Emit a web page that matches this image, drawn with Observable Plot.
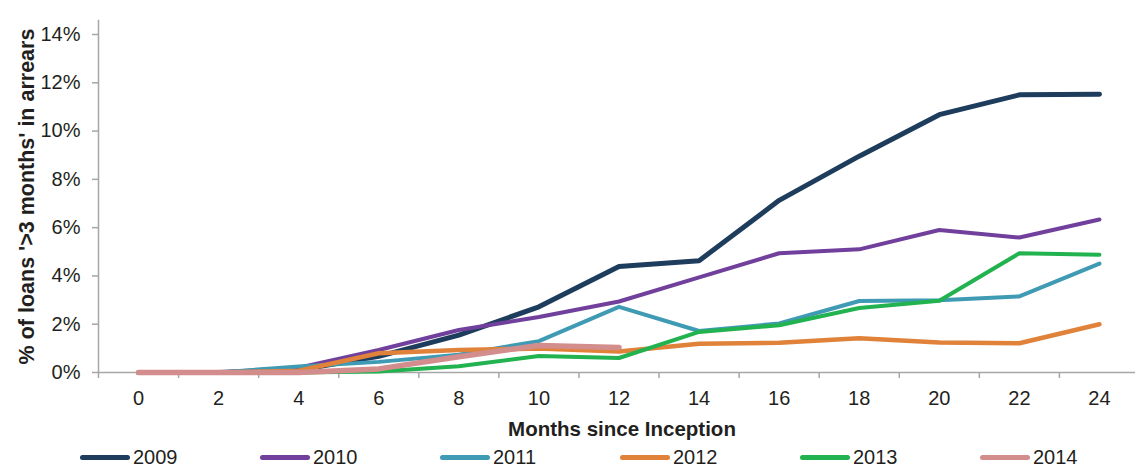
<!DOCTYPE html>
<html>
<head>
<meta charset="utf-8">
<script src="https://cdn.jsdelivr.net/npm/d3@7"></script>
<script src="https://cdn.jsdelivr.net/npm/@observablehq/plot@0.6"></script>
<style>
  html, body { margin: 0; padding: 0; background: #fff; }
  #chart { width: 1135px; height: 470px; overflow: hidden; font-family: "Liberation Sans", Arial, Helvetica, sans-serif; }
  .legend { display: flex; height: 25px; padding-left: 80px; align-items: center; }
  .legend .item { display: flex; flex: 0 0 180px; align-items: center; width: 180px; font-size: 20px; color: #231f20; }
  .legend .sw { width: 50px; height: 5px; border-radius: 3px; margin-right: 3px; }
</style>
</head>
<body>
<div id="chart"></div>
<script>
// Data
const months = [0, 2, 4, 6, 8, 10, 12, 14, 16, 18, 20, 22, 24];
const years = ["2009", "2010", "2011", "2012", "2013", "2014"];
const s2009 = [0, 0, 0.1, 0.67, 1.55, 2.72, 4.39, 4.63, 7.13, 8.96, 10.68, 11.5, 11.53];
const s2010 = [0, 0, 0.2, 0.93, 1.76, 2.3, 2.94, 3.94, 4.94, 5.1, 5.9, 5.59, 6.34];
const s2011 = [0, 0, 0.25, 0.44, 0.74, 1.3, 2.72, 1.72, 2.03, 2.96, 2.99, 3.15, 4.51];
const s2012 = [0, 0, 0.07, 0.8, 0.93, 0.99, 0.87, 1.19, 1.23, 1.42, 1.24, 1.21, 2.0];
const s2013 = [0, 0, 0, 0.04, 0.26, 0.68, 0.6, 1.68, 1.96, 2.67, 2.97, 4.94, 4.88];
const s2014 = [0, 0, 0, 0.15, 0.65, 1.12, 1.04];
const yTicks = [0, 0.02, 0.04, 0.06, 0.08, 0.10, 0.12, 0.14];
const yTitle = "% of loans '>3 months' in arrears";
const xTitle = "Months since Inception";

// Styles
const colors = ["#1e3d5c", "#70409c", "#3f9ab4", "#e0823a", "#22b24f", "#d38d8c"];
const widths = [5, 4, 4, 4.5, 4, 5.5];
const axisGray = "#a6a6a6";
const textColor = "#231f20";

const series = [s2009, s2010, s2011, s2012, s2013, s2014];
const rows = years.map((yr, i) => series[i].map((v, j) => ({year: yr, month: months[j], value: v / 100})));
const bounds = months.map(m => m - 1);

const lineMarks = rows.map((r, i) => Plot.line(r, {
  x: "month", y: "value", stroke: colors[i], strokeWidth: widths[i],
  strokeLinejoin: "round", strokeLinecap: "round"
}));

const plot = Plot.plot({
  width: 1135,
  height: 445,
  marginLeft: 98,
  marginRight: 0,
  marginTop: 20,
  marginBottom: 73,
  style: {fontFamily: "'Liberation Sans', Arial, Helvetica, sans-serif", fontSize: "20px", color: textColor, background: "white"},
  x: {type: "linear", domain: [months[0] - 1, months[months.length - 1] + 0.9]},
  y: {domain: [0, 0.1458]},
  marks: [
    Plot.axisY(yTicks, {tickSize: 6, tickPadding: 12, tickFormat: d3.format(".0%"), stroke: axisGray, strokeWidth: 1.5, fill: textColor, fontSize: 20, label: null}),
    Plot.axisX(months, {tickSize: 0, tickPadding: 18, fill: textColor, fontSize: 20, label: null}),
    Plot.axisX(bounds, {tickSize: 6, tickFormat: () => "", stroke: axisGray, strokeWidth: 1.5, label: null}),
    Plot.frame({anchor: "left", stroke: axisGray, strokeWidth: 1.5}),
    Plot.ruleY([0], {stroke: axisGray, strokeWidth: 1.5}),
    ...lineMarks,
    Plot.text([yTitle], {frameAnchor: "left", rotate: -90, dx: -65, textAnchor: "middle", lineAnchor: "bottom", fontWeight: "bold", fontSize: 21.5, fill: textColor}),
    Plot.text([xTitle], {frameAnchor: "bottom", dx: 5, dy: 63, textAnchor: "middle", lineAnchor: "bottom", fontWeight: "bold", fontSize: 20.5, fill: textColor})
  ]
});

const chart = document.getElementById("chart");
chart.appendChild(plot);

const legend = document.createElement("div");
legend.className = "legend";
years.forEach((yr, i) => {
  const item = document.createElement("div");
  item.className = "item";
  const sw = document.createElement("span");
  sw.className = "sw";
  sw.style.background = colors[i];
  const t = document.createElement("span");
  t.textContent = yr;
  item.appendChild(sw);
  item.appendChild(t);
  legend.appendChild(item);
});
chart.appendChild(legend);
</script>
</body>
</html>
